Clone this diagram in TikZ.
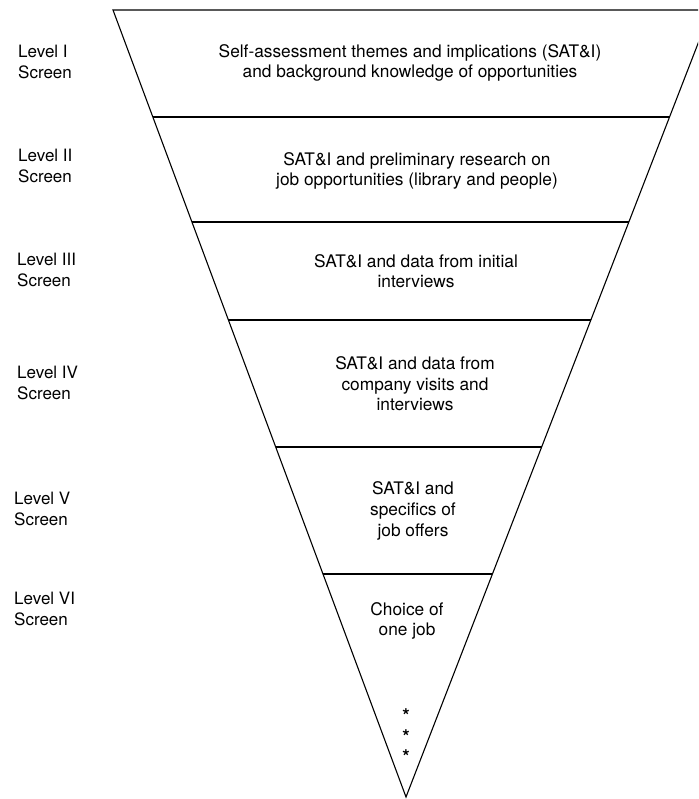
\documentclass[tikz,border=0pt]{standalone}
\usepackage{fontspec}
\setmainfont{TeX Gyre Heros}
\usetikzlibrary{calc}
\tikzset{
  edge/.style={line width=1.1pt, black},
  boxtext/.style={align=center, font=\fontsize{17.3}{20.6}\selectfont, inner sep=0pt},
  lvl/.style={align=left, anchor=west, font=\fontsize{17}{20.6}\selectfont, inner sep=0pt},
  dot/.style={font=\fontsize{19}{19}\selectfont\bfseries, inner sep=0pt}
}
\begin{document}
\begin{tikzpicture}[x=1pt,y=-1pt]
\useasboundingbox (0,0) rectangle (698,799);
\clip (0,0) rectangle (698,799);
\coordinate (TL) at (113,10);
\coordinate (TR) at (711,10);
\coordinate (AP) at (406,797);
\draw[edge] (TL) -- (TR) -- (AP) -- cycle;
\foreach \yy/\nm in {117/a,222/b,320/c,447/d,574/e}{
  \coordinate (L\nm) at ($(TL)!{(\yy-10)/787}!(AP)$);
  \coordinate (R\nm) at ($(TR)!{(\yy-10)/787}!(AP)$);
  \draw[edge] (L\nm) -- (R\nm);
}
\node[boxtext] (t1) at (410,63) {Self-assessment themes and implications (SAT\&I)\\and background knowledge of opportunities};
\node[boxtext] (t2) at (417,171) {SAT\&I and preliminary research on\\job opportunities (library and people)};
\node[boxtext] (t3) at (416,271) {SAT\&I and data from initial\\interviews};
\node[boxtext] (t4) at (415,384) {SAT\&I and data from\\company visits and\\interviews};
\node[boxtext] (t5) at (413,511) {SAT\&I and\\specifics of\\job offers};
\node[boxtext] (t6) at (407,621) {Choice of\\one job};
\node[dot] (s1) at (406,716) {*};
\node[dot] (s2) at (406,737) {*};
\node[dot] (s3) at (406,757) {*};
\node[lvl] (l1) at (18,62) {Level I\\Screen};
\node[lvl] (l2) at (18,166) {Level II\\Screen};
\node[lvl] (l3) at (17,270) {Level III\\Screen};
\node[lvl] (l4) at (17,383) {Level IV\\Screen};
\node[lvl] (l5) at (14,509) {Level V\\Screen};
\node[lvl] (l6) at (14,609) {Level VI\\Screen};
\end{tikzpicture}
\end{document}
